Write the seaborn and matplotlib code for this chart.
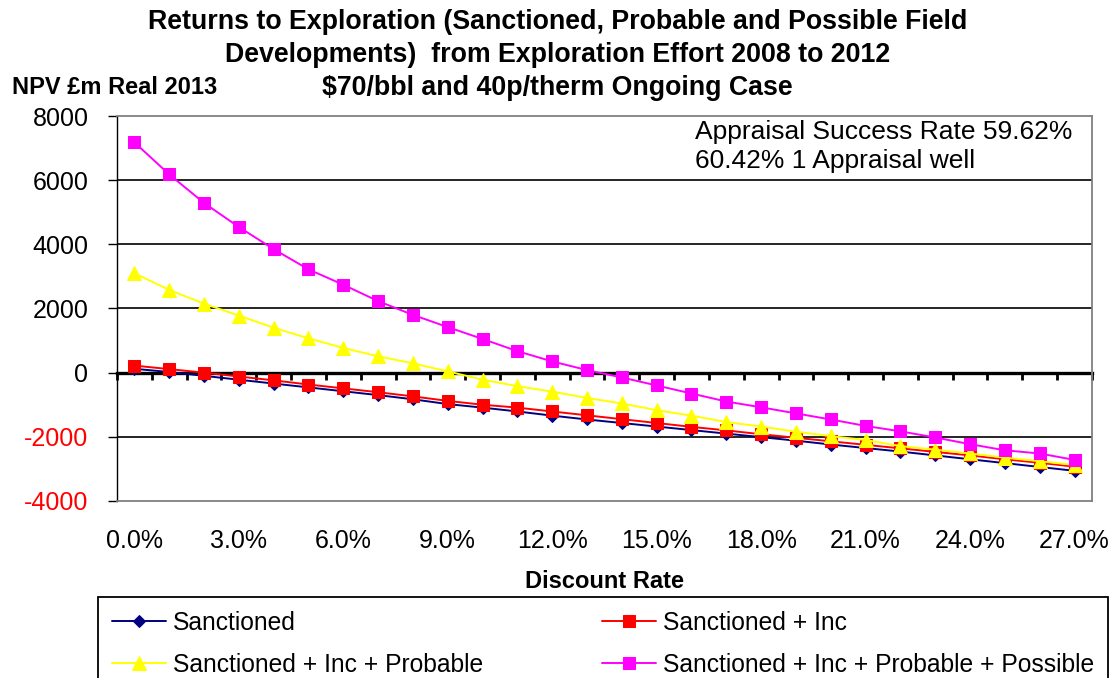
"""Returns to exploration NPV by discount rate, Excel-style line chart"""
import numpy as np
import pandas as pd
import matplotlib
matplotlib.use("Agg")
import matplotlib.pyplot as plt
import seaborn as sns

discount_rates = [0, 1, 2, 3, 4, 5, 6, 7, 8, 9, 10, 11, 12, 13,
                  14, 15, 16, 17, 18, 19, 20, 21, 22, 23, 24, 25, 26, 27]
tick_positions = [0, 3, 6, 9, 12, 15, 18, 21, 24, 27]
tick_labels = ["0.0%", "3.0%", "6.0%", "9.0%", "12.0%", "15.0%",
               "18.0%", "21.0%", "24.0%", "27.0%"]

sanctioned = [120, 20, -100, -220, -340, -460, -580, -700, -830, -980,
              -1090, -1210, -1340, -1460, -1570, -1680, -1790, -1900, -2010, -2120,
              -2240, -2350, -2460, -2580, -2700, -2820, -2940, -3060]
sanctioned_inc = [220, 110, 0, -120, -240, -370, -490, -610, -740, -880,
                  -1000, -1090, -1210, -1330, -1450, -1570, -1690, -1800, -1920, -2030,
                  -2140, -2250, -2360, -2470, -2580, -2700, -2810, -2930]
sanctioned_inc_prob = [3100, 2580, 2150, 1780, 1400, 1070, 770, 510, 290, 40,
                       -220, -420, -590, -790, -960, -1170, -1340, -1540, -1680, -1840,
                       -1980, -2100, -2290, -2400, -2520, -2650, -2760, -2880]
sanctioned_inc_prob_poss = [7180, 6180, 5290, 4540, 3850, 3220, 2740, 2230, 1800, 1420,
                            1050, 670, 350, 80, -150, -400, -650, -900, -1080, -1270,
                            -1460, -1660, -1830, -2020, -2230, -2420, -2520, -2720]

series_names = ["Sanctioned", "Sanctioned + Inc", "Sanctioned + Inc + Probable",
                "Sanctioned + Inc + Probable + Possible"]
series_values = [sanctioned, sanctioned_inc, sanctioned_inc_prob, sanctioned_inc_prob_poss]
series_colors = ["#000080", "#FF0000", "#FFFF00", "#FF00FF"]
series_markers = ["D", "s", "^", "s"]
series_msize = [6.5, 8, 10, 8]

title_lines = ["Returns to Exploration (Sanctioned, Probable and Possible Field",
               "Developments)  from Exploration Effort 2008 to 2012",
               r"\$70/bbl and 40p/therm Ongoing Case"]

sns.set_style("white")
plt.rcParams["font.family"] = ["Liberation Sans", "DejaVu Sans"]
plt.rcParams["text.color"] = "black"
plt.rcParams["axes.labelcolor"] = "black"
plt.rcParams["xtick.color"] = "black"
plt.rcParams["ytick.color"] = "black"

fig = plt.figure(figsize=(11.15, 6.78), dpi=100)
ax = fig.add_axes([0.1049, 0.2611, 0.8744, 0.5678])

for name, vals, col, mk, ms in zip(series_names, series_values, series_colors,
                                   series_markers, series_msize):
    df = pd.DataFrame({"rate": discount_rates, "npv": vals})
    sns.lineplot(data=df, x="rate", y="npv", ax=ax, color=col, marker=mk,
                 markersize=ms, markeredgecolor=col, linewidth=1.4, label=name)

ax.set_xlim(-0.5, 27.5)
ax.set_ylim(-4000, 8000)
ax.set_yticks([-4000, -2000, 0, 2000, 4000, 6000, 8000])
ax.set_yticklabels(["-4000", "-2000", "0", "2000", "4000", "6000", "8000"])
for lbl in ax.get_yticklabels():
    lbl.set_color("red" if lbl.get_text().startswith("-") else "black")
ax.tick_params(axis="y", direction="out", length=6.5, width=1, color="black",
               pad=14, labelsize=18, left=True)
ax.set_xticks(tick_positions)
ax.set_xticklabels(tick_labels)
ax.tick_params(axis="x", length=0, pad=20, labelsize=18, labelcolor="black")
ax.set_xlabel("")
ax.set_ylabel("")

# horizontal gridlines (black, Excel style)
for g in [-2000, 2000, 4000, 6000]:
    ax.axhline(g, color="black", linewidth=1.2, zorder=0.5)

for side in ["top", "right", "bottom"]:
    ax.spines[side].set_color("#808080")
    ax.spines[side].set_linewidth(1.3)
ax.spines["left"].set_color("black")
ax.spines["left"].set_linewidth(1.0)

# category axis crossing at zero with ticks between categories
zero_loc = (0 - (-4000)) / 12000
sec = ax.secondary_xaxis(zero_loc)
sec.spines["bottom"].set_linewidth(2.4)
sec.spines["bottom"].set_color("black")
sec.set_xticks(np.arange(-0.5, 28, 1))
sec.set_xticklabels([])
sec.tick_params(axis="x", direction="out", length=5, width=2, color="black")

ax.text(0.593, 0.99, "Appraisal Success Rate 59.62%\n60.42% 1 Appraisal well",
        transform=ax.transAxes, ha="left", va="top", fontsize=19, linespacing=1.25)
ax.text(0.5, -0.21, "Discount Rate", transform=ax.transAxes, ha="center",
        va="center", fontsize=17, fontweight="bold")

for line, ypix in zip(title_lines, [22, 55, 88]):
    fig.text(0.5, (678 - ypix) / 678, line, ha="center", va="center",
             fontsize=19.3, fontweight="bold")
fig.text(12 / 1115, (678 - 88) / 678, "NPV £m Real 2013", ha="left", va="center",
         fontsize=17, fontweight="bold")

handles, labels = ax.get_legend_handles_labels()
order = [0, 2, 1, 3]
leg_top = 1 - 597 / 678
leg = ax.legend([handles[i] for i in order], [labels[i] for i in order],
                loc="upper left", bbox_to_anchor=(98 / 1115, leg_top - 0.3, 1010 / 1115, 0.3),
                bbox_transform=fig.transFigure, ncol=2, mode="expand", fontsize=17.7,
                frameon=True, fancybox=False, handlelength=2.2, handletextpad=0.3,
                labelspacing=0.75, borderpad=0.55, borderaxespad=0)
leg.get_frame().set_edgecolor("black")
leg.get_frame().set_linewidth(1.3)
leg.get_frame().set_alpha(1)

fig.savefig("out.png", dpi=100)
plt.close()
